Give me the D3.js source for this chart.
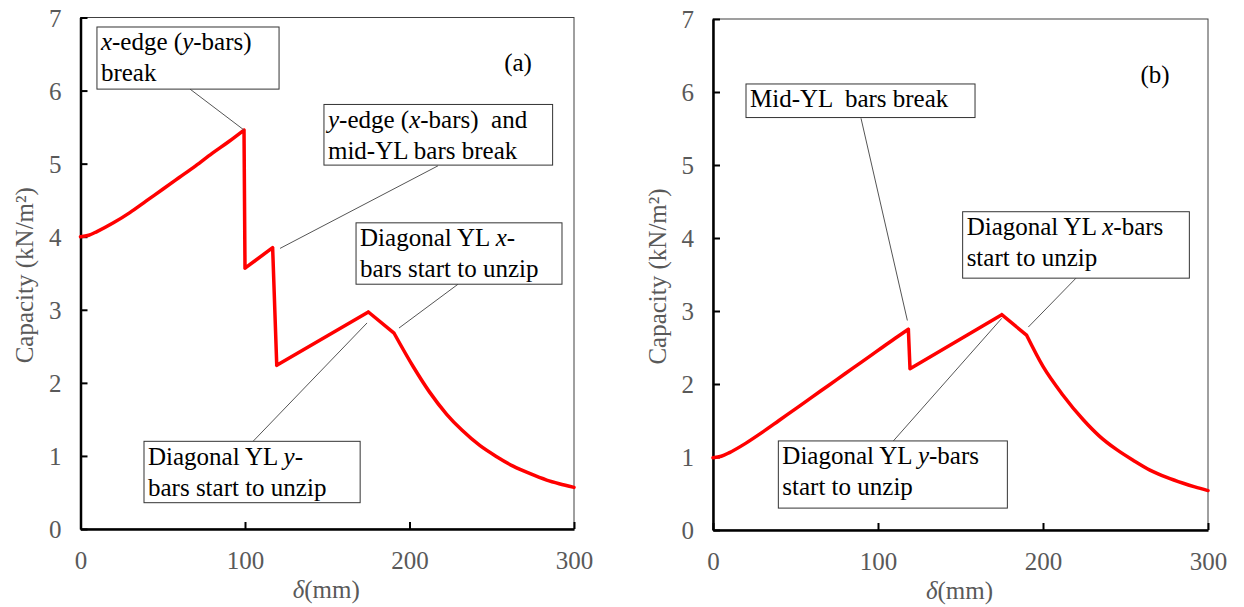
<!DOCTYPE html>
<html>
<head>
<meta charset="utf-8">
<script src="https://cdn.jsdelivr.net/npm/d3@7"></script>
<style>
  body { margin: 0; background: #fff; }
</style>
</head>
<body>
<svg width="1244" height="607"></svg>
<script>
// capacity vs displacement, two cases
var dispA = [0, 5, 10, 20, 30, 40, 50, 60, 70, 80, 90, 99.4, 100, 116.8, 119.3, 175, 190.6, 202.3, 212, 222.6, 232, 242.9, 253, 263, 273, 283.4, 291, 300];
var capA = [4.0, 4.02, 4.07, 4.19, 4.33, 4.49, 4.65, 4.81, 4.97, 5.14, 5.30, 5.46, 3.57, 3.85, 2.24, 2.97, 2.68, 2.22, 1.88, 1.57, 1.35, 1.14, 0.99, 0.86, 0.76, 0.67, 0.62, 0.57];
var cornersA = [11, 12, 13, 14, 15, 16];

var dispB = [0, 5, 10, 20, 30, 40, 50, 60, 70, 80, 90, 100, 110, 118.4, 119.4, 175, 190, 200, 212, 224.4, 234, 244.7, 255, 264.8, 275, 285, 292, 300];
var capB = [0.99, 1.01, 1.06, 1.19, 1.34, 1.50, 1.66, 1.82, 1.98, 2.14, 2.30, 2.46, 2.62, 2.75, 2.21, 2.95, 2.67, 2.24, 1.85, 1.51, 1.29, 1.10, 0.95, 0.82, 0.72, 0.64, 0.59, 0.54];
var cornersB = [13, 14, 15, 16];

var xTicks = [0, 100, 200, 300];
var yTicks = [0, 1, 2, 3, 4, 5, 6, 7];

// annotation boxes, in data units: [x0, x1, yTop, yBottom], leader from -> to
var notesA = [
  { lines: ["*x*-edge (*y*-bars)", "break"], box: [10, 120.7, 6.87, 6.02], from: [66.6, 6.02], to: [99.4, 5.46] },
  { lines: ["*y*-edge (*x*-bars)  and", "mid-YL bars break"], box: [148, 287, 5.81, 4.98], from: [217.3, 4.97], to: [121.3, 3.84] },
  { lines: ["Diagonal YL *x*-", "bars start to unzip"], box: [167.5, 292.7, 4.19, 3.35], from: [229.5, 3.35], to: [193.6, 2.75] },
  { lines: ["Diagonal YL *y*-", "bars start to unzip"], box: [38.6, 170, 1.20, 0.36], from: [104.9, 1.20], to: [174.2, 2.82] }
];
var notesB = [
  { lines: ["Mid-YL  bars break"], box: [20, 158.8, 6.11, 5.65], from: [89.7, 5.64], to: [117.8, 2.87] },
  { lines: ["Diagonal YL *x*-bars", "start to unzip"], box: [151.3, 288.7, 4.36, 3.45], from: [220, 3.45], to: [191.1, 2.78] },
  { lines: ["Diagonal YL *y*-bars", "start to unzip"], box: [39.6, 178.4, 1.22, 0.30], from: [109.3, 1.22], to: [175, 2.90] }
];

var svg = d3.select("svg");
var grey = "#595959";
var serif = "'Liberation Serif', 'Times New Roman', serif";

function addRich(text, str) {
  str.split("*").forEach(function (part, i) {
    if (part === "") return;
    text.append("tspan").attr("font-style", i % 2 ? "italic" : "normal").text(part);
  });
}

function panel(left, right, top, bottom, xs, ys, corners, notes, tag, tagPos) {
  var x = d3.scaleLinear().domain([0, 300]).range([left, right]);
  var y = d3.scaleLinear().domain([0, 7]).range([bottom, top]);
  var g = svg.append("g").style("font-family", serif);

  // thin frame top/right
  g.append("rect")
    .attr("x", left).attr("y", top)
    .attr("width", right - left).attr("height", bottom - top)
    .attr("fill", "none").attr("stroke", "#404040").attr("stroke-width", 1);

  var ax = g.append("g")
    .attr("transform", "translate(0," + bottom + ")")
    .call(d3.axisBottom(x).tickValues(xTicks).tickFormat(d3.format("d"))
      .tickSizeInner(-7).tickSizeOuter(0).tickPadding(22));
  var ay = g.append("g")
    .attr("transform", "translate(" + left + ",0)")
    .call(d3.axisLeft(y).tickValues(yTicks).tickFormat(d3.format("d"))
      .tickSizeInner(-7).tickSizeOuter(0).tickPadding(19));

  [ax, ay].forEach(function (a) {
    a.attr("font-family", null).style("font-family", serif);
    a.select(".domain").attr("stroke", "#000").attr("stroke-width", 2.5);
    a.selectAll(".tick line").attr("stroke", "#000").attr("stroke-width", 2);
    a.selectAll(".tick text").attr("fill", grey).attr("font-size", 25);
  });
  ay.selectAll(".tick text").attr("dy", "0.34em");

  // axis titles
  g.append("text")
    .attr("transform", "translate(" + (left - 47.5) + "," + ((top + bottom) / 2 + 2) + ") rotate(-90)")
    .attr("text-anchor", "middle").attr("fill", grey).attr("font-size", 25)
    .text("Capacity (kN/m²)");
  var xl = g.append("text")
    .attr("x", (left + right) / 2 - 1).attr("y", bottom + 69)
    .attr("text-anchor", "middle").attr("fill", grey).attr("font-size", 25);
  xl.append("tspan").attr("font-style", "italic").text("δ");
  xl.append("tspan").text("(mm)");

  // curve: smooth between sharp corners
  var pts = d3.zip(xs, ys);
  var cuts = [0].concat(corners, [pts.length - 1]);
  var line = d3.line().curve(d3.curveMonotoneX)
    .x(function (d) { return x(d[0]); }).y(function (d) { return y(d[1]); });
  var d = "";
  for (var i = 0; i < cuts.length - 1; i++) d += line(pts.slice(cuts[i], cuts[i + 1] + 1));
  g.append("path")
    .attr("d", d)
    .attr("fill", "none").attr("stroke", "#ff0000").attr("stroke-width", 3.5)
    .attr("stroke-linejoin", "round").attr("stroke-linecap", "round");

  // annotations
  notes.forEach(function (n) {
    g.append("line")
      .attr("x1", x(n.from[0])).attr("y1", y(n.from[1]))
      .attr("x2", x(n.to[0])).attr("y2", y(n.to[1]))
      .attr("stroke", "#555").attr("stroke-width", 1);
    var bx = x(n.box[0]), by = y(n.box[2]);
    g.append("rect")
      .attr("x", bx).attr("y", by)
      .attr("width", x(n.box[1]) - bx).attr("height", y(n.box[3]) - by)
      .attr("fill", "#fff").attr("stroke", "#333").attr("stroke-width", 1);
    n.lines.forEach(function (l, i) {
      var t = g.append("text")
        .attr("x", bx + 4).attr("y", by + 23.5 + i * 31)
        .attr("font-size", 25).attr("fill", "#000")
        .style("white-space", "pre");
      addRich(t, l);
    });
  });

  g.append("text")
    .attr("x", tagPos[0]).attr("y", tagPos[1])
    .attr("text-anchor", "middle").attr("font-size", 25).attr("fill", "#000")
    .text(tag);
}

panel(80.5, 574, 17.5, 529, dispA, capA, cornersA, notesA, "(a)", [518, 71]);
panel(713, 1208, 19, 530, dispB, capB, cornersB, notesB, "(b)", [1155, 83]);
</script>
</body>
</html>
